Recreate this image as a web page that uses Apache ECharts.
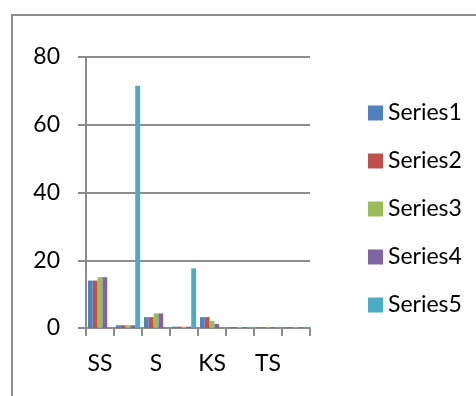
<!DOCTYPE html>
<html>
<head>
<meta charset="utf-8">
<script src="https://cdn.jsdelivr.net/npm/echarts@6/dist/echarts.min.js"></script>
<style>
  html, body { margin: 0; padding: 0; background: #fff; }
  #chart { width: 476px; height: 396px; }
</style>
</head>
<body>
<div id="chart"></div>
<script>
// Category slots; only every other one carries a printed label
const categories = ['SS', '', 'S', '', 'KS', '', 'TS', ''];
const yTicks = [0, 20, 40, 60, 80];

const series1 = [14, 0.8, 3.2, 0.4, 3.2, 0.3, 0.2, 0.2];
const series2 = [14, 0.8, 3.2, 0.4, 3.2, 0.3, 0.2, 0.2];
const series3 = [15, 0.8, 4.3, 0.4, 2.1, 0.3, 0.2, 0.2];
const series4 = [15, 0.8, 4.3, 0.4, 1.2, 0.3, 0.2, 0.2];
const series5 = [0, 71.5, 0, 17.6, 0, 0.3, 0.2, 0.2];

const seriesNames = ['Series1', 'Series2', 'Series3', 'Series4', 'Series5'];
const seriesValues = [series1, series2, series3, series4, series5];
const colors = ['#4F81BD', '#C0504D', '#9BBB59', '#8064A2', '#4BACC6'];

const axisGray = '#8c8c8c';
const font = 'Lato';

const chart = echarts.init(document.getElementById('chart'));
chart.setOption({
  animation: false,
  color: colors,
  graphic: [{
    type: 'rect',
    shape: { x: 12, y: 15, width: 520, height: 420 },
    style: { fill: 'none', stroke: axisGray, lineWidth: 2 },
    silent: true
  }],
  grid: { left: 86, right: 166, top: 57, bottom: 68 },
  legend: {
    orient: 'vertical',
    left: 363,
    top: 96,
    itemWidth: 15,
    itemHeight: 15,
    itemGap: 24,
    icon: 'rect',
    textStyle: { fontFamily: font, fontSize: 23, color: '#000', lineHeight: 24 },
    data: seriesNames
  },
  xAxis: {
    type: 'category',
    data: categories,
    axisLine: { lineStyle: { color: axisGray, width: 2 } },
    axisTick: { show: true, length: 8, lineStyle: { color: axisGray, width: 2 } },
    axisLabel: { interval: 0, margin: 24, fontFamily: font, fontSize: 23, color: '#000' }
  },
  yAxis: {
    type: 'value',
    min: yTicks[0],
    max: yTicks[yTicks.length - 1],
    interval: yTicks[1] - yTicks[0],
    axisLine: { show: true, lineStyle: { color: axisGray, width: 2 } },
    axisTick: { show: true, length: 8, lineStyle: { color: axisGray, width: 2 } },
    axisLabel: { margin: 26, fontFamily: font, fontSize: 23, color: '#000' },
    splitLine: { lineStyle: { color: axisGray, width: 2 } }
  },
  series: seriesNames.map((name, i) => ({
    name: name,
    type: 'bar',
    data: seriesValues[i],
    barGap: '0%',
    barCategoryGap: '14%'
  }))
});
</script>
</body>
</html>
